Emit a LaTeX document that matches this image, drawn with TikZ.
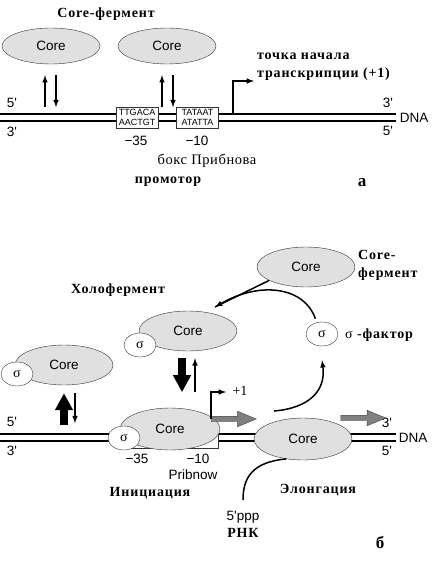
\documentclass[tikz,border=0pt]{standalone}
\usepackage{fontspec}
\setmainfont{Liberation Serif}
\setsansfont{Liberation Sans}
\usepackage{tikz}
\usetikzlibrary{positioning,shapes.geometric,shapes.arrows,arrows.meta}

\begin{document}
\begin{tikzpicture}[x=1pt,y=-1pt]
\tikzstyle{core}=[ellipse, draw=black!80, fill=black!12, minimum width=98, minimum height=40, font=\sffamily\fontsize{13.5}{15}\selectfont]
\tikzstyle{sig}=[ellipse, draw=black!80, fill=white, minimum width=32, minimum height=24, inner sep=0, font=\fontsize{14}{15}\selectfont]
\tikzstyle{seq}=[rectangle, draw=black!80, fill=white, inner sep=1pt, minimum width=42, minimum height=21, align=center, font=\sffamily\fontsize{9}{9.5}\selectfont]
\tikzstyle{lbl}=[font=\bfseries\fontsize{14}{15}\addfontfeature{LetterSpace=6}\selectfont, inner sep=0]
\tikzstyle{txt}=[font=\sffamily\fontsize{13.5}{15}\selectfont, inner sep=0]
\tikzstyle{connect}=[-latex, line width=1.5pt]
\tikzstyle{fat}=[line width=8pt, -{Triangle[length=17pt,width=17pt]}]
\tikzstyle{dna}=[double, double distance=5pt, line width=2pt]
\tikzstyle{garrow}=[single arrow, draw=black!75, fill=black!50, minimum height=45, minimum width=15, single arrow head extend=5pt, single arrow tip angle=45, inner sep=2.5pt]
\useasboundingbox (0,0) rectangle (431,569);

% panel a
\coordinate (dnaAl) at (0,117.5);
\coordinate (dnaAr) at (396,117.5);
\draw[dna] (dnaAl) -- (dnaAr);
\node[seq] (box35) at (137,117.5) {TTGACA\\AACTGT};
\node[seq] (box10) at (197.5,117.5) {TATAAT\\ATATTA};
\node[core, minimum height=36] (core1) at (51,46) {Core};
\node[core, minimum height=36] (core2) at (167,46) {Core};
\node[lbl] (coref) at (106,14) {Core-фермент};
\draw[connect] ([shift={(-6,43)}]core1.south) -- ([shift={(-6,11)}]core1.south);
\draw[connect] ([shift={(5,11)}]core1.south) -- ([shift={(5,43)}]core1.south);
\draw[connect] ([shift={(-5,43)}]core2.south) -- ([shift={(-5,11)}]core2.south);
\draw[connect] ([shift={(6,11)}]core2.south) -- ([shift={(6,43)}]core2.south);
\coordinate (tss) at (233,113.5);
\coordinate (tsstip) at (254,81);
\draw[connect] (tss) |- (tsstip);
\node[lbl, anchor=north west, align=left, font=\bfseries\fontsize{14}{18}\addfontfeature{LetterSpace=6}\selectfont] (tochka) at (257,53) {точка начала\\транскрипции (+1)};
\node[txt] (a5l) at (12,103) {5\textquotesingle};
\node[txt] (a3l) at (12,132) {3\textquotesingle};
\node[txt] (a3r) at (388,103) {3\textquotesingle};
\node[txt] (a5r) at (388,131) {5\textquotesingle};
\node[txt] (adna) at (414,117.5) {DNA};
\node[txt] (m35) at (136,141) {−35};
\node[txt] (m10) at (197,141) {−10};
\node[font=\fontsize{14.5}{15}\addfontfeature{LetterSpace=4}\selectfont, inner sep=0] (pribbox) at (207,161) {бокс Прибнова};
\node[lbl] (promotor) at (168,182) {промотор};
\node[lbl, font=\bfseries\fontsize{17}{18}\selectfont] (pa) at (362,183) {а};

% panel b
\coordinate (dnaBl) at (0,437.5);
\coordinate (dnaBr) at (396,437.5);
\draw[dna] (dnaBl) -- (dnaBr);
\node[txt] (b5l) at (12,422) {5\textquotesingle};
\node[txt] (b3l) at (12,451) {3\textquotesingle};
\node[txt] (b3r) at (387,423) {3\textquotesingle};
\node[txt] (b5r) at (387,451) {5\textquotesingle};
\node[txt] (bdna) at (413,437.5) {DNA};

\node[core] (tcore) at (306,267) {Core};
\node[lbl, anchor=west, align=left, font=\bfseries\fontsize{14}{18}\addfontfeature{LetterSpace=6}\selectfont] (tcoref) at (358,265) {Core-\\фермент};
\node[sig] (sfac) at (322,334) {σ};
\node[lbl, anchor=west] (sfacl) at (345,335) {{\mdseries σ} -фактор};

\node[core] (hcore) at (188,331) {Core};
\node[sig] (hsig) at (140,345) {σ};
\node[lbl] (holo) at (118,290) {Холофермент};

\node[core] (lcore) at (64,365) {Core};
\node[sig] (lsig) at (17,374) {σ};

\draw[fill=white, draw=black!80] (128,427) rectangle (218,448);
\node[core, minimum width=100, minimum height=42] (icore) at (170,429) {Core};
\node[sig] (isig) at (124,438) {σ};
\node[txt] (i35) at (137,459) {−35};
\node[txt] (i10) at (198,459) {−10};
\node[txt] (prib) at (193,475) {Pribnow};
\node[lbl] (init) at (150,493) {Инициация};

\node[core, minimum height=42] (ecore) at (303,439) {Core};
\node[lbl] (elong) at (318,490) {Элонгация};

\node[garrow] (g1) at (230.5,419) {};
\node[garrow] (g2) at (360,418) {};
\coordinate (p1tip) at (226,392);
\draw[connect] (g1.west) |- (p1tip);
\node[font=\fontsize{14}{15}\selectfont, inner sep=0] (plus1) at (240,391) {+1};

\draw[fat] ([shift={(0,40)}]lcore.south) -- ([shift={(0,8)}]lcore.south);
\draw[connect] ([shift={(11,8)}]lcore.south) -- ([shift={(11,38)}]lcore.south);
\draw[fat] ([shift={(-6,7)}]hcore.south) -- ([shift={(-6,41)}]hcore.south);
\draw[connect] ([shift={(7,41)}]hcore.south) -- ([shift={(7,7)}]hcore.south);

\coordinate (tip) at (215,307);
\draw[line width=1.5pt] (tcore.200) -- (tip);
\draw[connect, shorten <=4pt] (sfac.115) .. controls (305,288) and (262,280) .. (tip);
\coordinate (rs) at (274,411);
\draw[connect] (rs) .. controls (310,408) and (326,390) .. ([shift={(0,14)}]sfac.south);

\coordinate (rna5) at (243,500);
\draw[line width=1.5pt] (ecore.230) .. controls (252,462) and (243,478) .. (rna5);
\node[txt] (ppp) at (243,517) {5\textquotesingle ppp};
\node[lbl, below=5pt of ppp] (rnk) {РНК};
\node[lbl, font=\bfseries\fontsize{17}{18}\selectfont] (pb) at (380,542) {б};
\end{tikzpicture}
\end{document}
